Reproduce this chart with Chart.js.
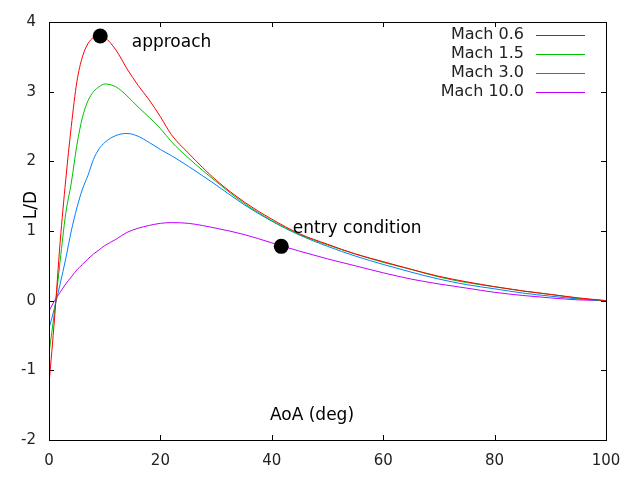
<!DOCTYPE html>
<html>
<head>
<meta charset="utf-8">
<script src="https://cdn.jsdelivr.net/npm/chart.js@4/dist/chart.umd.min.js"></script>
<style>
html,body{margin:0;padding:0;background:#fff;}
#wrap{width:640px;height:480px;}
</style>
</head>
<body>
<div id="wrap"><canvas id="c" width="640" height="480"></canvas></div>
<script>
// ---- data ----
const aoa = [0,1,2,3,4,5,6,7,8,9,10,12,14,16,18,20,22,25,30,35,40,45,50,55,60,65,70,75,80,85,90,95,100];
const mach06 = [-1.2,-0.25,0.84,1.73,2.5,3.14,3.5,3.69,3.78,3.81,3.78,3.6,3.33,3.09,2.88,2.64,2.38,2.12,1.73,1.42,1.17,0.96,0.81,0.67,0.56,0.45,0.35,0.27,0.2,0.14,0.09,0.04,0];
const mach15 = [-0.75,-0.15,0.57,1.25,1.69,2.23,2.63,2.87,3.0,3.07,3.11,3.07,2.94,2.78,2.63,2.47,2.28,2.05,1.71,1.4,1.15,0.95,0.8,0.67,0.55,0.45,0.34,0.26,0.2,0.14,0.09,0.035,0];
const mach30 = [-0.4,-0.1,0.24,0.6,1.0,1.33,1.6,1.8,2.03,2.18,2.27,2.37,2.4,2.36,2.27,2.17,2.08,1.93,1.66,1.38,1.14,0.94,0.78,0.64,0.52,0.41,0.31,0.23,0.17,0.11,0.065,0.025,0];
const mach100 = [-0.15,0.0,0.12,0.24,0.34,0.44,0.52,0.6,0.67,0.73,0.79,0.88,0.98,1.04,1.08,1.11,1.12,1.11,1.04,0.95,0.83,0.71,0.6,0.5,0.4,0.31,0.24,0.18,0.12,0.075,0.04,0.012,0];
const seriesNames = ["Mach 0.6","Mach 1.5","Mach 3.0","Mach 10.0"];
const markX = [9.2, 41.7];
const markY = [3.8, 0.78];
const noteText = ["approach","entry condition"];
const noteX = [14.85, 43.75];
const noteY = [3.646, 0.974];
const xTicks = [0,20,40,60,80,100];
const yTicks = [-2,-1,0,1,2,3,4];
const xTitle = "AoA (deg)";
const yTitle = "L/D";

const colors = ["#ff0000","#00c000","#0080ff","#c000ff"];
const seriesVals = [mach06, mach15, mach30, mach100];
const FONT = "DejaVu Sans";

const datasets = seriesVals.map((vals,i)=>({
  label: seriesNames[i],
  data: aoa.map((x,j)=>({x:x,y:vals[j]})),
  borderColor: colors[i],
  backgroundColor: colors[i],
  borderWidth: 1,
  pointRadius: 0,
  fill: false,
  cubicInterpolationMode: "monotone",
  order: 2
}));
datasets.push({
  label: "markers",
  type: "scatter",
  data: markX.map((x,i)=>({x:x,y:markY[i]})),
  pointRadius: 7.5,
  pointBackgroundColor: "#000",
  pointBorderColor: "#000",
  pointBorderWidth: 0,
  showLine: false,
  order: 1
});

const decor = {
  id: "decor",
  afterDraw(chart){
    const ctx = chart.ctx;
    const a = chart.chartArea;
    const xs = chart.scales.x, ys = chart.scales.y;
    ctx.save();
    // frame
    ctx.strokeStyle = "#000";
    ctx.lineWidth = 1;
    ctx.strokeRect(Math.round(a.left)+0.5, Math.round(a.top)+0.5, Math.round(a.right-a.left), Math.round(a.bottom-a.top));
    // inward ticks
    const tl = 5;
    ctx.beginPath();
    xTicks.forEach(v=>{
      const px = Math.round(xs.getPixelForValue(v))+0.5;
      ctx.moveTo(px, a.bottom); ctx.lineTo(px, a.bottom-tl);
      ctx.moveTo(px, a.top); ctx.lineTo(px, a.top+tl);
    });
    yTicks.forEach(v=>{
      const py = Math.round(ys.getPixelForValue(v))+0.5;
      ctx.moveTo(a.left, py); ctx.lineTo(a.left+tl, py);
      ctx.moveTo(a.right, py); ctx.lineTo(a.right-tl, py);
    });
    ctx.stroke();
    // annotations
    ctx.fillStyle = "#000";
    ctx.font = "17px '"+FONT+"'";
    ctx.textAlign = "left";
    ctx.textBaseline = "alphabetic";
    noteText.forEach((t,i)=>{
      ctx.fillText(t, xs.getPixelForValue(noteX[i]), ys.getPixelForValue(noteY[i]));
    });
    // x title inside plot
    ctx.textAlign = "center";
    ctx.fillText(xTitle, 312, 420);
    // y title
    ctx.save();
    ctx.translate(36, 205);
    ctx.rotate(-Math.PI/2);
    ctx.textAlign = "center";
    ctx.fillText(yTitle, 0, 0);
    ctx.restore();
    // legend
    ctx.font = "16px '"+FONT+"'";
    ctx.fillStyle = "#222";
    ctx.textAlign = "right";
    ctx.textBaseline = "middle";
    seriesNames.forEach((n,i)=>{
      const y = 35 + i*19;
      ctx.fillText(n, 524, y);
      ctx.strokeStyle = colors[i];
      ctx.beginPath();
      ctx.moveTo(536, Math.round(y)+0.5);
      ctx.lineTo(585, Math.round(y)+0.5);
      ctx.stroke();
    });
    ctx.restore();
  }
};

new Chart(document.getElementById("c"), {
  type: "line",
  data: { datasets: datasets },
  options: {
    responsive: false,
    animation: false,
    devicePixelRatio: 1,
    layout: { padding: { top: 21, right: 34, left: 0, bottom: 0 } },
    plugins: { legend: { display: false }, tooltip: { enabled: false } },
    scales: {
      x: {
        type: "linear", min: 0, max: 100,
        afterBuildTicks: s => { s.ticks = xTicks.map(v=>({value:v})); },
        afterFit: s => { s.height = 40; },
        grid: { display: false, drawTicks: false },
        border: { display: false },
        ticks: { font: { family: FONT, size: 15 }, color: "#222", padding: 12, maxRotation: 0 }
      },
      y: {
        type: "linear", min: -2, max: 4,
        afterBuildTicks: s => { s.ticks = yTicks.map(v=>({value:v})); },
        afterFit: s => { s.width = 49; },
        grid: { display: false, drawTicks: false },
        border: { display: false },
        ticks: { font: { family: FONT, size: 15 }, color: "#222", padding: 13 }
      }
    }
  },
  plugins: [decor]
});
</script>
</body>
</html>
